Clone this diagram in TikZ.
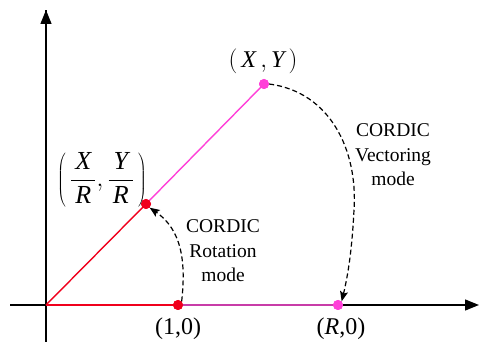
\documentclass[tikz,border=0pt]{standalone}
\usepackage{fontspec}
\setmainfont{Liberation Serif}
\usetikzlibrary{arrows.meta}
\definecolor{myred}{HTML}{F0001C}
\definecolor{mypink}{HTML}{FF40D8}
\definecolor{mymag}{HTML}{C83CA8}
\begin{document}
\begin{tikzpicture}[x=1pt,y=-1pt,
  axis/.style={line width=1.3pt,black},
  vec/.style={line width=1.4pt},
  dot/.style={circle,inner sep=0pt,minimum size=10pt},
  lbl/.style={font=\fontsize{24}{28}\selectfont,inner sep=0pt},
  modetxt/.style={font=\fontsize{19.5}{24.5}\selectfont,align=center,inner sep=0pt},
  curv/.style={line width=1.2pt,dash pattern=on 5pt off 3pt,-{Stealth[length=10pt,width=8pt,inset=2pt]}}]
\useasboundingbox (0,0) rectangle (480,342);
% axes
\coordinate (O) at (46,305);
\coordinate (xl) at (10,305);
\coordinate (xr) at (479,305);
\coordinate (yb) at (46,342);
\coordinate (yt) at (46,10);
\draw[axis] (xl) -- (O);
\draw[axis] (yb) -- (yt);
\draw[axis,-{Triangle[length=14pt,width=11pt]}] (O) -- (xr);
\draw[axis,-{Triangle[length=14pt,width=11pt]}] (O) -- (yt);
% points
\node[dot,fill=myred] (p10) at (178,305) {};
\node[dot,fill=mypink] (pR0) at (338,305) {};
\node[dot,fill=mypink] (pXY) at (264,84) {};
\node[dot,fill=myred] (pXR) at (146,204) {};
% vectors
\draw[vec,mymag] (p10.center) -- (pR0.center);
\draw[vec,mypink] (pXR.center) -- (pXY.center);
\draw[vec,myred] (O) -- (p10.center);
\draw[vec,myred] (O) -- (pXR.center);
\node[dot,fill=myred] at (p10) {};
\node[dot,fill=mypink] at (pR0) {};
\node[dot,fill=mypink] at (pXY) {};
\node[dot,fill=myred] at (pXR) {};
% labels
\node[lbl] (l10) at (178,329) {(1,0)};
\node[lbl] (lR0) at (341,329) {(\textit{R},0)};
\node[lbl] (lXY) at (263,61) {$\left(\,\textit{X}\,,\textit{Y}\,\right)$};
\node[lbl,font=\fontsize{26}{30}\selectfont] (lXR) at (102,180) {$\displaystyle\left(\,\frac{\,\textit{X}\,}{\,\textit{R}\,},\frac{\,\textit{Y}\,}{\,\textit{R}\,}\,\right)$};
\node[modetxt] (rot) at (223,251) {CORDIC\\Rotation\\mode};
\node[modetxt] (vecm) at (393,155) {CORDIC\\Vectoring\\mode};
% curved arrows
\draw[curv] (p10.north east) .. controls (186,262) and (182,230) .. (pXR.south east);
\draw[curv] (pXY.east) .. controls (330,92) and (358,150) .. (354,210) .. controls (352,250) and (348,275) .. (pR0.north east);
\end{tikzpicture}
\end{document}
